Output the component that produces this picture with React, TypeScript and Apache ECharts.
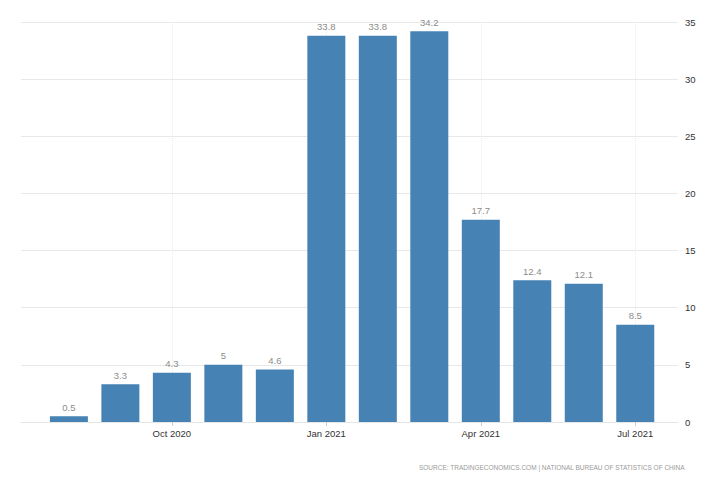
import React, { useEffect, useRef } from "react";
import * as echarts from "echarts";

const months = [
  "Aug 2020", "Sep 2020", "Oct 2020", "Nov 2020", "Dec 2020", "Jan 2021",
  "Feb 2021", "Mar 2021", "Apr 2021", "May 2021", "Jun 2021", "Jul 2021",
];
const values = [0.5, 3.3, 4.3, 5, 4.6, 33.8, 33.8, 34.2, 17.7, 12.4, 12.1, 8.5];
const labelIndices = [2, 5, 8, 11];
const yTicks = [0, 5, 10, 15, 20, 25, 30, 35];
const sourceText = "SOURCE: TRADINGECONOMICS.COM | NATIONAL BUREAU OF STATISTICS OF CHINA";

const FONT = "'Liberation Sans', Arial, sans-serif";

export default function App() {
  const ref = useRef<HTMLDivElement>(null);
  useEffect(() => {
    if (!ref.current) return;
    const chart = echarts.init(ref.current, null, { renderer: "svg" });
    chart.setOption({
      animation: false,
      backgroundColor: "#ffffff",
      grid: { left: 21, right: 50, top: 22, bottom: 63, containLabel: false },
      xAxis: {
        type: "value",
        min: -0.93,
        max: 11.83,
        axisLine: { show: true, lineStyle: { color: "#e6e6e6" } },
        axisTick: {
          show: true,
          customValues: labelIndices,
          length: 4,
          lineStyle: { color: "#cccccc" },
        },
        axisLabel: {
          customValues: labelIndices,
          formatter: (v: number) => months[Math.round(v)] ?? "",
          color: "#333333",
          fontFamily: FONT,
          fontSize: 9.5,
          margin: 6,
        },
        splitLine: {
          show: true,
          lineStyle: { color: "#ebebeb", type: "dotted", width: 1 },
        },
      },
      yAxis: {
        type: "value",
        position: "right",
        min: 0,
        max: 35,
        interval: 5,
        axisLine: { show: false },
        axisTick: { show: false },
        axisLabel: {
          color: "#333333",
          fontFamily: FONT,
          fontSize: 9.5,
          margin: 7,
          customValues: yTicks,
        },
        splitLine: { show: true, lineStyle: { color: "#e8e8e8", width: 1 } },
      },
      series: [
        {
          type: "bar",
          data: values.map((v, i) => [i, v]),
          barWidth: 38,
          itemStyle: { color: "#4682b4" },
          label: {
            show: true,
            position: "top",
            color: "#8c8c8c",
            fontFamily: FONT,
            fontSize: 9.5,
            distance: 4,
          },
        },
      ],
      graphic: [
        {
          type: "text",
          right: 43,
          top: 464,
          style: {
            text: sourceText,
            fill: "#9a9a9a",
            font: "6.5px " + FONT,
          },
        },
      ],
    });
    return () => chart.dispose();
  }, []);
  return (
    <div
      ref={ref}
      style={{ position: "absolute", left: 0, top: 0, width: 728, height: 485 }}
    />
  );
}
